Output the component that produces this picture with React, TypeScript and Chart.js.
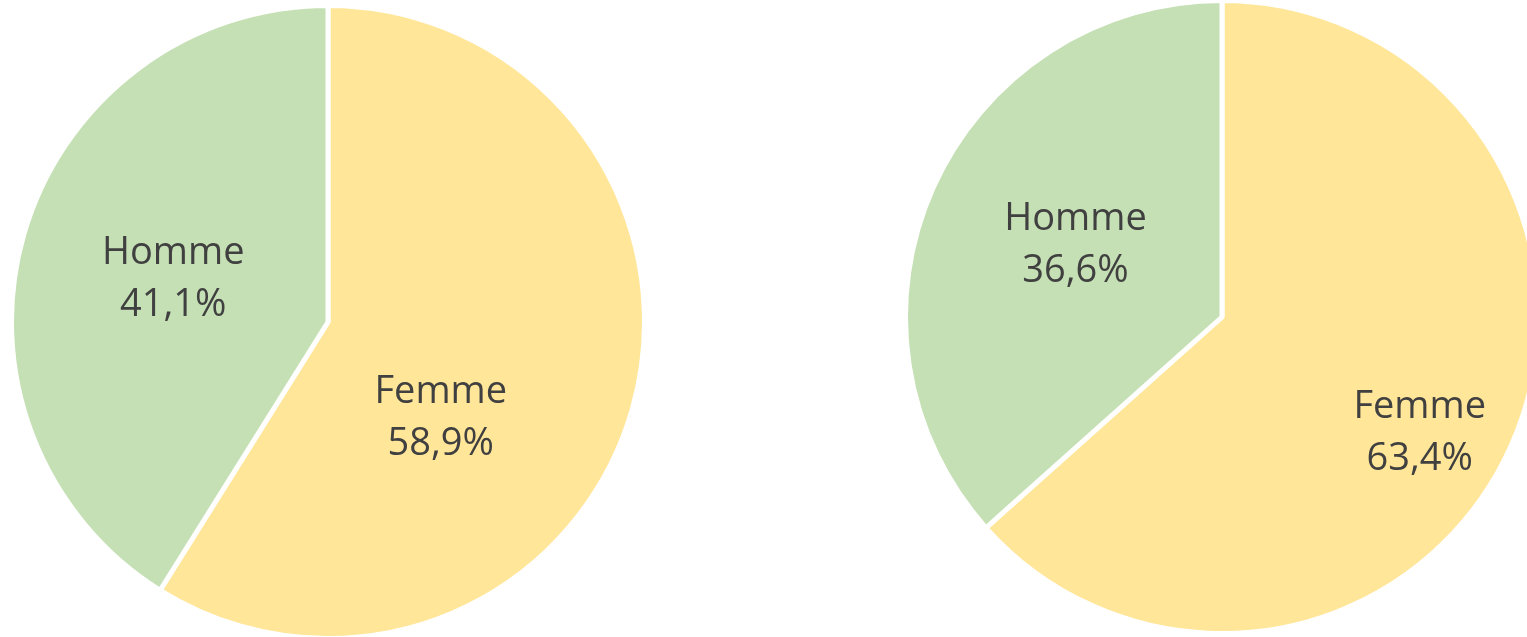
import React, { useEffect, useRef } from "react";
import { Chart, registerables } from "chart.js";

Chart.register(...registerables);

const categories = ["Femme", "Homme"];
const leftValues = [58.9, 41.1];
const rightValues = [63.4, 36.6];
const colors = ["#FFE699", "#C5E0B4"];

// label placement: angle shift (deg) from slice middle and distance as fraction of radius
const leftLabelPlacement = [
  { dAngle: 23.5, k: 0.462 },
  { dAngle: 0.5, k: 0.51 },
];
const rightLabelPlacement = [
  { dAngle: 5.7, k: 0.72 },
  { dAngle: 3, k: 0.52 },
];

const fmt = (v: number) => v.toFixed(1).replace(".", ",") + "%";

const labelPlugin = {
  id: "pieLabels",
  afterDatasetsDraw(chart: any, _args: any, opts: any) {
    const ctx = chart.ctx;
    const meta = chart.getDatasetMeta(0);
    const data = chart.data.datasets[0].data as number[];
    const placement = opts.placement || [];
    ctx.save();
    ctx.font = "38px 'Open Sans'";
    ctx.fillStyle = "#404040";
    ctx.textAlign = "center";
    ctx.textBaseline = "alphabetic";
    meta.data.forEach((arc: any, i: number) => {
      const p = arc.getProps(["x", "y", "startAngle", "endAngle", "outerRadius"], true);
      const pl = placement[i] || { dAngle: 0, k: 0.5 };
      const mid = (p.startAngle + p.endAngle) / 2 + (pl.dAngle * Math.PI) / 180;
      const cx = p.x + Math.cos(mid) * p.outerRadius * pl.k;
      const cy = p.y + Math.sin(mid) * p.outerRadius * pl.k;
      ctx.fillText(chart.data.labels[i], cx, cy - 12);
      ctx.fillText(fmt(data[i]), cx, cy + 40);
    });
    ctx.restore();
  },
};

function PieCanvas({ values, placement, style }: { values: number[]; placement: any[]; style: React.CSSProperties }) {
  const ref = useRef<HTMLCanvasElement>(null);
  useEffect(() => {
    if (!ref.current) return;
    const chart = new Chart(ref.current, {
      type: "pie",
      data: {
        labels: categories,
        datasets: [
          {
            data: values,
            backgroundColor: colors,
            borderColor: "#FFFFFF",
            borderWidth: 5,
            hoverOffset: 0,
          },
        ],
      },
      options: {
        responsive: false,
        animation: false,
        devicePixelRatio: 1,
        radius: 316.5,
        layout: { padding: 0 },
        plugins: {
          legend: { display: false },
          tooltip: { enabled: false },
          pieLabels: { placement },
        } as any,
      },
      plugins: [labelPlugin],
    });
    return () => chart.destroy();
  }, []);
  return <canvas ref={ref} width={640} height={640} style={{ position: "absolute", width: 640, height: 640, ...style }} />;
}

export default function App() {
  return (
    <div style={{ position: "fixed", left: 0, top: 0, width: 1527, height: 637, overflow: "hidden", background: "#FFFFFF" }}>
      <PieCanvas values={leftValues} placement={leftLabelPlacement} style={{ left: 8, top: 2 }} />
      <PieCanvas values={rightValues} placement={rightLabelPlacement} style={{ left: 902, top: -3 }} />
    </div>
  );
}
